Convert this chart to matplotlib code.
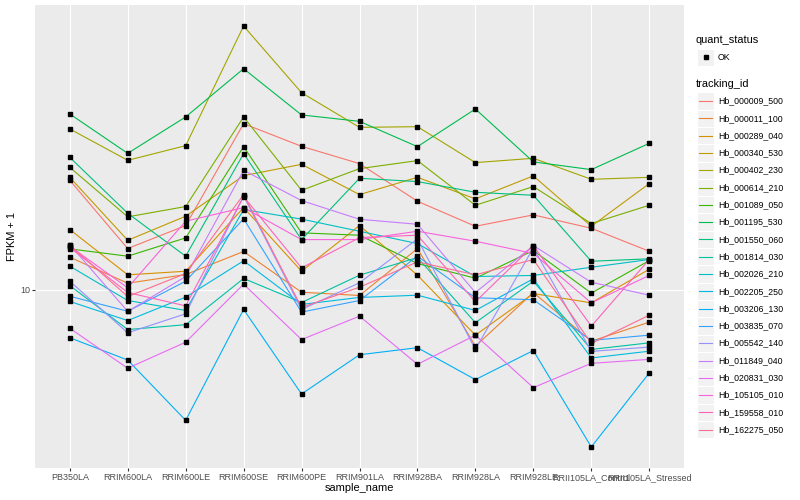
import numpy as np
import matplotlib
matplotlib.use("Agg")
import matplotlib.pyplot as plt
from matplotlib.patches import Rectangle
from matplotlib.lines import Line2D
from matplotlib.ticker import FixedLocator, NullLocator

plt.rcParams['font.family'] = ['Liberation Sans', 'DejaVu Sans']

samples = ["PB350LA", "RRIM600LA", "RRIM600LE", "RRIM600SE", "RRIM600PE",
           "RRIM901LA", "RRIM928BA", "RRIM928LA", "RRIM928LE",
           "RRII105LA_Control", "RRII105LA_Stressed"]

tracking_ids = ["Hb_000009_500", "Hb_000011_100", "Hb_000289_040", "Hb_000340_530",
                "Hb_000402_230", "Hb_000614_210", "Hb_001089_050", "Hb_001195_530",
                "Hb_001550_060", "Hb_001814_030", "Hb_002026_210", "Hb_002205_250",
                "Hb_003206_130", "Hb_003835_070", "Hb_005542_140", "Hb_011849_040",
                "Hb_020831_030", "Hb_105105_010", "Hb_159558_010", "Hb_162275_050"]

Hb_000009_500 = [21.44, 13.31, 15.63, 31.84, 27.18, 24.09, 18.52, 15.55, 16.84, 15.34, 13.06]
Hb_000011_100 = [12.53, 10.45, 11.10, 13.04, 9.81, 9.59, 13.31, 6.73, 9.79, 6.97, 7.96]
Hb_000289_040 = [15.20, 11.08, 11.36, 17.72, 11.36, 15.63, 11.05, 7.27, 9.72, 9.11, 11.52]
Hb_000340_530 = [21.89, 14.10, 16.68, 22.15, 23.97, 19.40, 21.89, 18.83, 22.11, 15.55, 20.95]
Hb_000402_230 = [30.69, 24.65, 27.31, 62.96, 39.53, 31.03, 31.18, 24.26, 25.00, 21.59, 21.89]
Hb_000614_210 = [23.47, 16.61, 17.85, 33.37, 19.99, 23.26, 24.60, 18.01, 20.52, 15.85, 18.01]
Hb_001089_050 = [13.28, 12.62, 14.34, 27.12, 14.85, 14.61, 11.99, 10.82, 13.13, 9.75, 12.24]
Hb_001195_530 = [34.07, 25.88, 33.37, 46.74, 33.84, 32.36, 27.12, 35.28, 24.38, 23.10, 27.75]
Hb_001550_060 = [25.17, 17.03, 12.62, 25.83, 14.17, 21.74, 21.25, 19.72, 19.31, 12.18, 12.39]
Hb_001814_030 = [10.28, 7.56, 7.82, 10.80, 9.13, 11.05, 12.50, 7.93, 10.60, 6.58, 6.89]
Hb_002026_210 = [11.77, 9.26, 8.64, 17.48, 16.35, 15.02, 13.78, 10.95, 11.03, 11.68, 12.33]
Hb_002205_250 = [9.20, 8.05, 9.48, 12.22, 9.01, 9.46, 9.61, 8.64, 10.78, 6.20, 6.50]
Hb_003206_130 = [7.14, 6.11, 4.01, 8.70, 4.82, 6.34, 6.66, 5.33, 6.53, 3.33, 5.58]
Hb_003835_070 = [9.54, 8.59, 10.60, 16.38, 8.54, 9.26, 12.62, 9.44, 9.31, 7.01, 7.27]
Hb_005542_140 = [10.60, 7.39, 8.44, 19.20, 8.70, 10.48, 14.24, 6.58, 13.38, 6.49, 6.69]
Hb_011849_040 = [13.69, 8.58, 10.95, 22.99, 18.61, 16.33, 15.77, 9.79, 13.59, 10.52, 9.61]
Hb_020831_030 = [7.63, 5.77, 6.92, 10.38, 7.05, 8.30, 5.93, 7.27, 5.04, 5.97, 6.14]
Hb_105105_010 = [13.53, 10.12, 16.11, 17.72, 14.17, 14.17, 15.02, 14.01, 12.86, 9.11, 11.03]
Hb_159558_010 = [13.41, 9.79, 8.92, 19.13, 11.63, 14.37, 14.61, 9.18, 13.59, 7.74, 12.33]
Hb_162275_050 = [13.64, 9.52, 11.18, 19.40, 8.82, 10.16, 12.13, 11.08, 12.33, 6.86, 8.36]

series = [Hb_000009_500, Hb_000011_100, Hb_000289_040, Hb_000340_530, Hb_000402_230,
          Hb_000614_210, Hb_001089_050, Hb_001195_530, Hb_001550_060, Hb_001814_030,
          Hb_002026_210, Hb_002205_250, Hb_003206_130, Hb_003835_070, Hb_005542_140,
          Hb_011849_040, Hb_020831_030, Hb_105105_010, Hb_159558_010, Hb_162275_050]

colors = ["#F8766D", "#EA8331", "#D89000", "#C09B00", "#A3A500", "#7CAE00", "#39B600",
          "#00BB4E", "#00BF7D", "#00C1A3", "#00BFC4", "#00BAE0", "#00B0F6", "#35A2FF",
          "#9590FF", "#C77CFF", "#E76BF3", "#FA62DB", "#FF62BC", "#FF6C91"]

W, H = 800, 500
fig = plt.figure(figsize=(W / 100, H / 100), dpi=100)
fig.patch.set_facecolor("white")

L, R, T, B = 35, 684, 5, 468
ax = fig.add_axes([L / W, 1 - B / H, (R - L) / W, (B - T) / H])
ax.set_facecolor("#EBEBEB")
for s in ax.spines.values():
    s.set_visible(False)

x = np.arange(len(samples))
for vals, c in zip(series, colors):
    ax.plot(x, vals, color=c, lw=0.8, zorder=2, solid_joinstyle="round")
for vals in series:
    ax.plot(x, vals, ls="none", marker="s", ms=2.3, color="black", zorder=3)

ax.set_yscale("log")
allv = np.concatenate([np.asarray(v, float) for v in series])
lo, hi = np.log10(allv.min()), np.log10(allv.max())
pad = 0.05 * (hi - lo)
ax.set_ylim(10 ** (lo - pad), 10 ** (hi + pad))
ax.set_xlim(-0.6, len(samples) - 1 + 0.6)

ax.yaxis.set_major_locator(FixedLocator([10]))
ax.yaxis.set_minor_locator(NullLocator())
ax.set_yticklabels(["10"])
ax.set_xticks(x)
ax.set_xticklabels(samples)
ax.tick_params(axis="both", which="major", length=2.2, width=0.8, color="#333333",
               labelsize=6.5, labelcolor="#4D4D4D", pad=1.5)
ax.grid(True, which="major", color="white", lw=0.8)
ax.set_axisbelow(True)

fig.text(12 / W, 1 - ((T + B) / 2) / H, "FPKM + 1", rotation=90, ha="center",
         va="center", fontsize=7.9, color="black")
fig.text(((L + R) / 2) / W, 1 - 488 / H, "sample_name", ha="center", va="center",
         fontsize=7.9, color="black")

# legend drawn in figure pixel space
lg = fig.add_axes([0, 0, 1, 1], facecolor="none")
lg.set_xlim(0, W)
lg.set_ylim(H, 0)
lg.axis("off")

lg.text(696, 40, "quant_status", ha="left", va="center", fontsize=7.9, color="black")
lg.add_patch(Rectangle((697, 48.5), 17, 17, facecolor="#F2F2F2", edgecolor="white", lw=0.8))
lg.plot([705.5], [57], marker="s", ms=2.3, color="black", ls="none")
lg.text(718, 57, "OK", ha="left", va="center", fontsize=6.3, color="black")

lg.text(696, 84, "tracking_id", ha="left", va="center", fontsize=7.9, color="black")
y0, dy = 101.0, 17.3
for i, (name, c) in enumerate(zip(tracking_ids, colors)):
    yc = y0 + i * dy
    lg.add_patch(Rectangle((697, yc - dy / 2), 17, dy, facecolor="#F2F2F2",
                           edgecolor="white", lw=0.8))
    lg.add_line(Line2D([698.7, 712.3], [yc, yc], color=c, lw=0.8))
    lg.text(718, yc, name, ha="left", va="center", fontsize=6.3, color="black")

fig.savefig("out.png", dpi=100)
